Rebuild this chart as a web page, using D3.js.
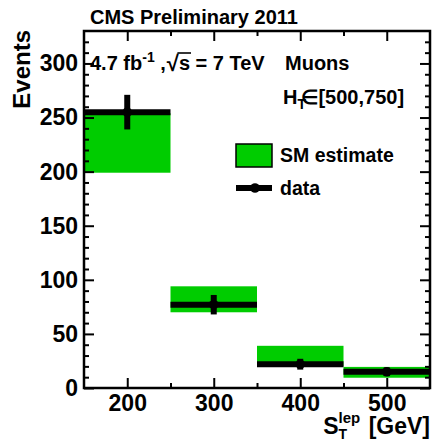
<!DOCTYPE html>
<html>
<head>
<meta charset="utf-8">
<script src="https://cdn.jsdelivr.net/npm/d3@7"></script>
<style>
  html, body { margin: 0; padding: 0; background: #fff; }
  svg text { font-family: "Liberation Sans", Arial, Helvetica, sans-serif; font-weight: bold; fill: #000; white-space: pre; }
</style>
</head>
<body>
<svg id="chart" width="432" height="443"></svg>
<script>
// Bin edges in S_T^lep (GeV)
const binEdges = [150, 250, 350, 450, 550];
// Observed event counts per bin and their statistical errors
const dataCounts = [255, 77, 22, 15];
const dataErrors = [16, 9, 5, 4];
// Standard Model estimate band (lower / upper edge) per bin
const smLow = [199, 70, 20, 9.5];
const smHigh = [254, 94, 39, 19.5];
// Axis ticks
const xMajorTicks = [200, 300, 400, 500];
const xMinorTicks = [250, 350, 450];
const yMajorTicks = [0, 50, 100, 150, 200, 250, 300];
const yMinorTicks = d3.range(10, 330, 10).filter(v => v % 50 !== 0);

const svg = d3.select("#chart");
const frame = { left: 84, right: 430, top: 31, bottom: 388 };

const x = d3.scaleLinear().domain([150, 550]).range([frame.left, frame.right]);
const y = d3.scaleLinear().domain([0, 330]).range([frame.bottom, frame.top]);

const bins = dataCounts.map((d, i) => ({
  lo: binEdges[i], hi: binEdges[i + 1],
  centre: (binEdges[i] + binEdges[i + 1]) / 2,
  count: d, err: dataErrors[i], smLo: smLow[i], smHi: smHigh[i]
}));

const green = "#00cc00";

// SM estimate boxes
svg.append("g").selectAll("rect").data(bins).join("rect")
  .attr("x", d => x(d.lo)).attr("width", d => x(d.hi) - x(d.lo))
  .attr("y", d => y(d.smHi)).attr("height", d => y(d.smLo) - y(d.smHi))
  .attr("fill", green);

// Data: horizontal bin line, error bar and marker
const dg = svg.append("g");
dg.selectAll("line.h").data(bins).join("line").attr("class", "h")
  .attr("x1", d => x(d.lo)).attr("x2", d => x(d.hi))
  .attr("y1", d => y(d.count)).attr("y2", d => y(d.count))
  .attr("stroke", "#000").attr("stroke-width", 6);
dg.selectAll("line.e").data(bins).join("line").attr("class", "e")
  .attr("x1", d => x(d.centre)).attr("x2", d => x(d.centre))
  .attr("y1", d => y(d.count - d.err)).attr("y2", d => y(d.count + d.err))
  .attr("stroke", "#000").attr("stroke-width", 6);
dg.selectAll("circle").data(bins).join("circle")
  .attr("cx", d => x(d.centre)).attr("cy", d => y(d.count)).attr("r", 4.8)
  .attr("fill", "#000");

// Axes: ticks on all four sides, pointing inward
const bottomAxis = d3.axisBottom(x).tickValues(xMajorTicks).tickSize(-10).tickFormat(d3.format("d")).tickPadding(7);
const bottomMinor = d3.axisBottom(x).tickValues(xMinorTicks).tickSize(-5).tickFormat("");
const topAxis = d3.axisTop(x).tickValues(xMajorTicks).tickSize(-10).tickFormat("");
const topMinor = d3.axisTop(x).tickValues(xMinorTicks).tickSize(-5).tickFormat("");
const leftAxis = d3.axisLeft(y).tickValues(yMajorTicks).tickSize(-10).tickFormat(d3.format("d")).tickPadding(6);
const leftMinor = d3.axisLeft(y).tickValues(yMinorTicks).tickSize(-5).tickFormat("");
const rightAxis = d3.axisRight(y).tickValues(yMajorTicks).tickSize(-10).tickFormat("");
const rightMinor = d3.axisRight(y).tickValues(yMinorTicks).tickSize(-5).tickFormat("");

function styleAxis(g) {
  g.select(".domain").remove();
  g.selectAll(".tick line").attr("stroke", "#000").attr("stroke-width", 2);
  g.selectAll(".tick text").attr("fill", "#000").style("font-size", "23px");
}
svg.append("g").attr("transform", `translate(0,${frame.bottom})`).call(bottomAxis).call(styleAxis)
  .selectAll(".tick text").attr("dy", "0.71em");
svg.append("g").attr("transform", `translate(0,${frame.bottom})`).call(bottomMinor).call(styleAxis);
svg.append("g").attr("transform", `translate(0,${frame.top})`).call(topAxis).call(styleAxis);
svg.append("g").attr("transform", `translate(0,${frame.top})`).call(topMinor).call(styleAxis);
svg.append("g").attr("transform", `translate(${frame.left},0)`).call(leftAxis).call(styleAxis);
svg.append("g").attr("transform", `translate(${frame.left},0)`).call(leftMinor).call(styleAxis);
svg.append("g").attr("transform", `translate(${frame.right},0)`).call(rightAxis).call(styleAxis);
svg.append("g").attr("transform", `translate(${frame.right},0)`).call(rightMinor).call(styleAxis);

// Frame
svg.append("rect")
  .attr("x", frame.left).attr("y", frame.top)
  .attr("width", frame.right - frame.left).attr("height", frame.bottom - frame.top)
  .attr("fill", "none").attr("stroke", "#000").attr("stroke-width", 2.5);

// Title above the frame
svg.append("text").attr("x", 90).attr("y", 24).style("font-size", "20px").text("CMS Preliminary 2011");

// Y axis title
svg.append("text").attr("transform", "translate(30,30) rotate(-90)")
  .attr("text-anchor", "end").style("font-size", "24px").text("Events");

// Helper laying out a run of text pieces, each with its own size and vertical shift
function textRun(parent, x0, y0, pieces) {
  let cx = x0;
  const out = [];
  pieces.forEach(p => {
    if (p.gap) { cx += p.gap; return; }
    const t = parent.append("text").attr("x", cx).attr("y", y0 + (p.dy || 0))
      .style("font-size", (p.size || 20) + "px").text(p.text);
    const w = t.node().getComputedTextLength();
    out.push({ node: t, x: cx, w: w, p: p });
    if (!p.noAdvance) cx += w;
  });
  return out;
}

// Luminosity and energy
const lumi = textRun(svg, 90, 70, [
  { text: "4.7 fb", size: 20 },
  { text: "-1", size: 14, dy: -8 },
  { text: " ,", size: 20 },
  { gap: 1 },
  { text: "\u221A", size: 22, dy: 1 },
  { text: "s", size: 20 },
  { text: " = 7 TeV", size: 20 }
]);
const rootPiece = lumi[3];
const sPiece = lumi[4];
svg.append("line")
  .attr("x1", rootPiece.x + rootPiece.w - 1.5).attr("x2", sPiece.x + sPiece.w + 1)
  .attr("y1", 70 - 17).attr("y2", 70 - 17)
  .attr("stroke", "#000").attr("stroke-width", 1.6);

svg.append("text").attr("x", 285).attr("y", 70).style("font-size", "20px").text("Muons");

// H_T range
textRun(svg, 283, 104, [
  { text: "H", size: 20 },
  { text: "T", size: 14, dy: 5, noAdvance: true },
  { gap: 4 },
  { text: "\u2208[500,750]", size: 20 }
]);

// Legend
const legX = 236;
svg.append("rect").attr("x", legX).attr("y", 144).attr("width", 36).attr("height", 23)
  .attr("fill", green).attr("stroke", "#000").attr("stroke-width", 1.5);
svg.append("text").attr("x", 280).attr("y", 162).style("font-size", "19.5px").text("SM estimate");
svg.append("line").attr("x1", legX).attr("x2", legX + 36).attr("y1", 188).attr("y2", 188)
  .attr("stroke", "#000").attr("stroke-width", 6);
svg.append("circle").attr("cx", legX + 19).attr("cy", 188).attr("r", 4.8).attr("fill", "#000");
svg.append("text").attr("x", 280).attr("y", 195).style("font-size", "19.5px").text("data");

// X axis title: S_T^lep [GeV], right-aligned to the frame
const xt = svg.append("g");
const xtRun = textRun(xt, 0, 434, [
  { text: "S", size: 23 },
  { text: "lep", size: 15, dy: -11, noAdvance: true },
  { text: "T", size: 14, dy: 5 },
  { gap: 2 },
  { text: " [GeV]", size: 23 }
]);
// make room for the longer of the two stacked scripts
const last = xtRun[xtRun.length - 1];
const lepPiece = xtRun[1];
const tPiece = xtRun[2];
const extra = Math.max(0, lepPiece.w - tPiece.w);
last.node.attr("x", last.x + extra);
const totalW = last.x + extra + last.w;
xt.attr("transform", `translate(${frame.right - totalW},0)`);
</script>
</body>
</html>
